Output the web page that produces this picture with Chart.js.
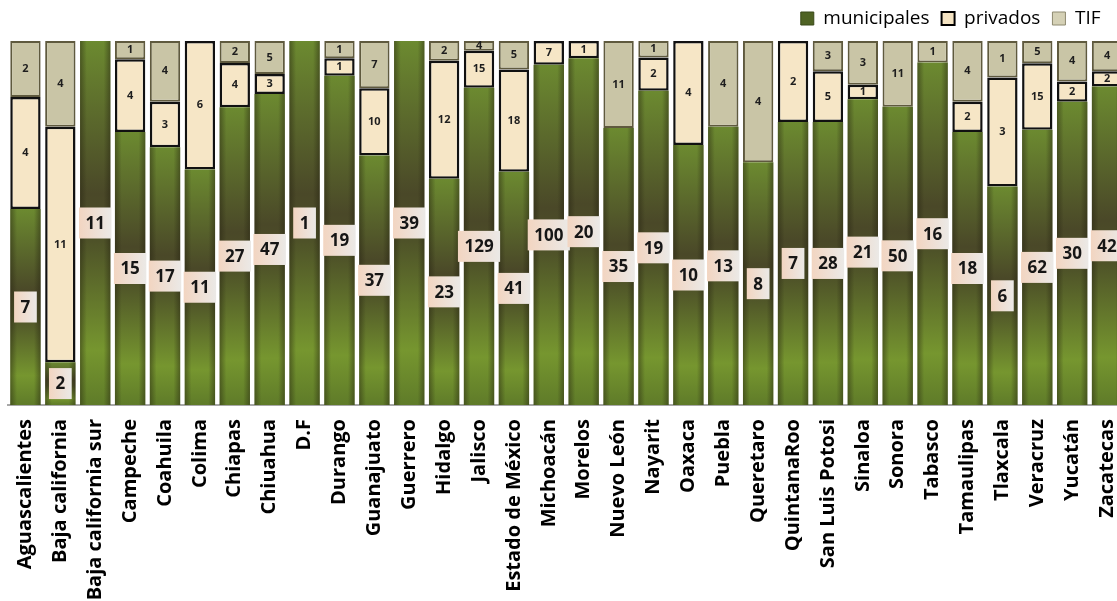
<!DOCTYPE html>
<html lang="es">
<head>
<meta charset="utf-8">
<title>Rastros por estado</title>
<script src="https://cdn.jsdelivr.net/npm/chart.js@4.4.1/dist/chart.umd.min.js"></script>
<style>
  html, body { margin: 0; padding: 0; background: #fff; overflow: hidden; }
</style>
</head>
<body>
<canvas id="grafica" width="1128" height="601"></canvas>
<script>
const estados = ['Aguascalientes', 'Baja california', 'Baja california sur', 'Campeche', 'Coahuila',
    'Colima', 'Chiapas', 'Chiuahua', 'D.F', 'Durango', 'Guanajuato', 'Guerrero', 'Hidalgo', 'Jalisco',
    'Estado de México', 'Michoacán', 'Morelos', 'Nuevo León', 'Nayarit', 'Oaxaca', 'Puebla',
    'Queretaro', 'QuintanaRoo', 'San Luis Potosi', 'Sinaloa', 'Sonora', 'Tabasco', 'Tamaulipas',
    'Tlaxcala', 'Veracruz', 'Yucatán', 'Zacatecas'];
const municipales = [7, 2, 11, 15, 17, 11, 27, 47, 1, 19, 37, 39, 23, 129, 41, 100, 20, 35, 19, 10,
    13, 8, 7, 28, 21, 50, 16, 18, 6, 62, 30, 42];
const privados = [4, 11, 0, 4, 3, 6, 4, 3, 0, 1, 10, 0, 12, 15, 18, 7, 1, 0, 2, 4,
    0, 0, 2, 5, 1, 0, 0, 2, 3, 15, 2, 2];
const tif = [2, 4, 0, 1, 4, 0, 2, 5, 0, 1, 7, 0, 2, 4, 5, 0, 0, 11, 1, 0,
    4, 4, 0, 3, 3, 11, 1, 4, 1, 5, 4, 4];

// total de cada estado, para apilar al 100%
const totales = estados.map((e, i) => municipales[i] + privados[i] + tif[i]);
const aPorcentaje = (serie) => serie.map((v, i) => v / totales[i] * 100);

const fuente = "'Open Sans', 'Noto Sans', sans-serif";

// degradado vertical de cada barra verde
function degradadoMunicipal(ctx) {
    const chart = ctx.chart;
    const y = chart.scales.y;
    if (!chart.chartArea || ctx.type !== 'data' || !y) return '#5b6f2a';
    const arriba = y.getPixelForValue(ctx.parsed.y);
    const abajo = y.getPixelForValue(0);
    if (!isFinite(arriba) || abajo - arriba < 1) return '#5b6f2a';
    const g = chart.ctx.createLinearGradient(0, arriba, 0, abajo);
    g.addColorStop(0, '#6c8a30');
    g.addColorStop(0.42, '#4a4828');
    g.addColorStop(0.55, '#4e5228');
    g.addColorStop(0.85, '#76962f');
    g.addColorStop(1, '#5f7b29');
    return g;
}

const bordeSiHay = (ancho) => (ctx) => (ctx.raw > 0 ? ancho : 0);

// etiquetas: caja clara para municipales, texto chico para los otros
const etiquetas = {
    id: 'etiquetas',
    afterDatasetsDraw(chart) {
        const c = chart.ctx;
        c.save();
        // sombra de los lados de las barras verdes
        chart.getDatasetMeta(0).data.forEach((barra) => {
            const izq = barra.x - barra.width / 2;
            const der = barra.x + barra.width / 2;
            const g = c.createLinearGradient(izq, 0, der, 0);
            g.addColorStop(0, 'rgba(35,32,15,0.45)');
            g.addColorStop(0.22, 'rgba(35,32,15,0)');
            g.addColorStop(0.78, 'rgba(35,32,15,0)');
            g.addColorStop(1, 'rgba(35,32,15,0.45)');
            c.fillStyle = g;
            c.fillRect(izq, barra.y, barra.width, barra.base - barra.y);
        });

        c.textAlign = 'center';
        c.textBaseline = 'middle';
        chart.data.datasets.forEach((ds, d) => {
            const meta = chart.getDatasetMeta(d);
            meta.data.forEach((barra, i) => {
                const valor = ds.cuentas[i];
                if (!valor) return;
                const cx = barra.x;
                const cy = (barra.y + barra.base) / 2;
                if (d === 0) {
                    c.font = 'bold 17px ' + fuente;
                    const w = c.measureText(String(valor)).width + 13;
                    const h = 31;
                    const g = c.createLinearGradient(cx - w / 2, 0, cx + w / 2, 0);
                    g.addColorStop(0, '#f2d5c1');
                    g.addColorStop(1, '#ebe9e6');
                    c.fillStyle = g;
                    c.fillRect(cx - w / 2, cy - h / 2, w, h);
                    c.fillStyle = '#161616';
                    c.fillText(String(valor), cx, cy + 1);
                } else {
                    c.font = 'bold 11px ' + fuente;
                    c.fillStyle = '#1e1e1e';
                    c.fillText(String(valor), cx, cy);
                }
            });
        });
        c.restore();
    }
};

// la leyenda se corre un poco a la izquierda y hacia arriba
const ajusteLeyenda = {
    id: 'ajusteLeyenda',
    beforeInit(chart) {
        const leyenda = chart.legend;
        const drawOriginal = leyenda.draw;
        leyenda.draw = function () {
            this.ctx.save();
            this.ctx.translate(-12, -3);
            drawOriginal.call(this);
            this.ctx.restore();
        };
    }
};

const cv = document.querySelector('#grafica').getContext('2d');
const grafica = new Chart(cv, {
    type: 'bar',
    data: {
        labels: estados,
        datasets: [
            {
                label: 'municipales',
                data: aPorcentaje(municipales),
                cuentas: municipales,
                backgroundColor: degradadoMunicipal,
                borderWidth: 0
            },
            {
                label: 'privados',
                data: aPorcentaje(privados),
                cuentas: privados,
                backgroundColor: '#f6e6c6',
                borderColor: '#111111',
                borderWidth: bordeSiHay(2.5),
                borderSkipped: false
            },
            {
                label: 'TIF',
                data: aPorcentaje(tif),
                cuentas: tif,
                backgroundColor: '#c9c5a6',
                borderColor: '#5f5a3e',
                borderWidth: bordeSiHay(2),
                borderSkipped: false
            }
        ]
    },
    options: {
        responsive: false,
        animation: false,
        layout: { padding: { left: 8, right: 3.5, top: 0, bottom: 0 } },
        datasets: {
            bar: { barPercentage: 0.87, categoryPercentage: 1 }
        },
        scales: {
            x: {
                stacked: true,
                grid: { display: false },
                border: { display: true, color: '#a8a8a8', width: 2 },
                ticks: {
                    minRotation: 90,
                    maxRotation: 90,
                    autoSkip: false,
                    padding: 6,
                    color: '#000',
                    font: { family: fuente, size: 20, weight: 'bold' }
                },
                afterFit: (scale) => {
                    scale.height = 196;
                    scale.paddingLeft = 0;
                    scale.paddingRight = 0;
                }
            },
            y: {
                stacked: true,
                display: false,
                min: 0,
                max: 100
            }
        },
        plugins: {
            tooltip: { enabled: false },
            legend: {
                position: 'top',
                align: 'end',
                labels: {
                    boxWidth: 13,
                    boxHeight: 13,
                    padding: 12,
                    color: '#404040',
                    font: { family: fuente, size: 19 },
                    generateLabels: () => [
                        { text: 'municipales', fillStyle: '#4f6324', strokeStyle: '#3b4a1b', lineWidth: 1, datasetIndex: 0, hidden: false },
                        { text: 'privados', fillStyle: '#f5e4c3', strokeStyle: '#000', lineWidth: 2, datasetIndex: 1, hidden: false },
                        { text: 'TIF', fillStyle: '#d5d1b6', strokeStyle: '#8e8a70', lineWidth: 1, datasetIndex: 2, hidden: false }
                    ]
                }
            }
        }
    },
    plugins: [etiquetas, ajusteLeyenda]
});
</script>
</body>
</html>
